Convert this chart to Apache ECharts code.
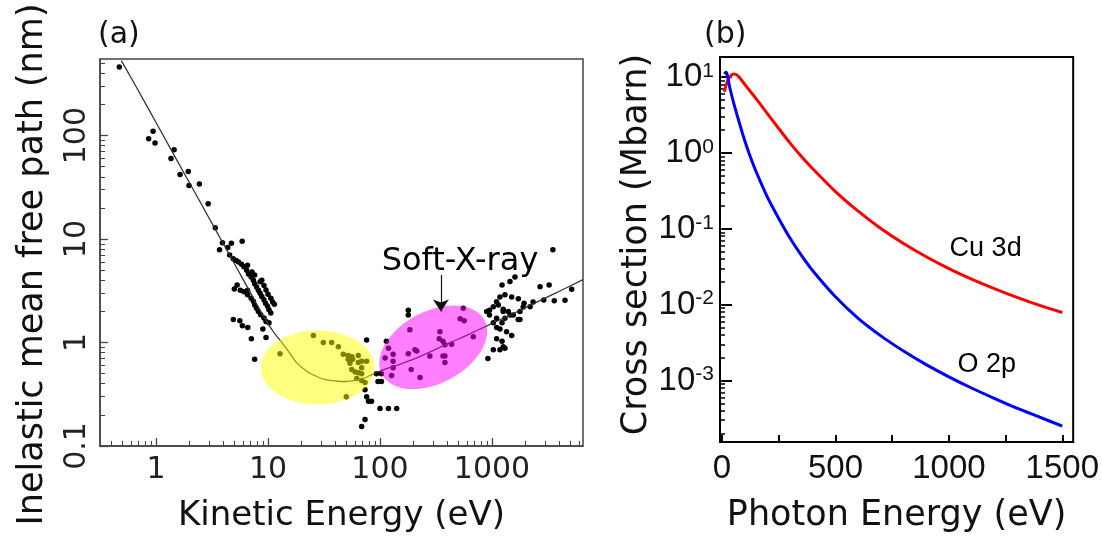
<!DOCTYPE html>
<html>
<head>
<meta charset="utf-8">
<script src="https://cdn.jsdelivr.net/npm/echarts@6/dist/echarts.min.js"></script>
<style>
html, body { margin: 0; padding: 0; background: #fff; }
#main { width: 1102px; height: 538px; }
</style>
</head>
<body>
<div id="main"></div>
<script>
// ---- (a) inelastic mean free path ----
var kineticLabels = [1, 10, 100, 1000];
var imfpLabels = [0.1, 1, 10, 100];

// universal curve
var curveEnergy = [0.49, 0.7, 1, 1.5, 2, 3, 4, 5, 6, 7, 9, 11, 13, 15, 18, 22, 26, 32, 40, 50, 60, 71, 85, 100, 140, 200, 300, 400, 600, 900, 1300, 1900, 2800, 4000, 6500];
var curveImfp = [530, 268, 134, 60.6, 34.6, 15.7, 8.95, 5.8, 4.06, 3.0, 1.84, 1.3, 1.03, 0.84, 0.64, 0.53, 0.48, 0.44, 0.425, 0.42, 0.43, 0.45, 0.49, 0.53, 0.6, 0.69, 0.84, 0.97, 1.18, 1.45, 1.74, 2.12, 2.6, 3.13, 4.06];

// measured points [energy eV, imfp nm]
var imfpPoints = [
  [0.47, 460], [0.86, 93], [0.94, 110], [0.98, 85], [1.36, 60], [1.45, 73],
  [1.64, 42], [1.94, 45], [1.97, 33], [2.44, 34], [2.92, 22], [3.38, 12.9],
  [3.69, 7.9], [3.92, 9.2], [4.37, 8.3], [4.71, 9.1], [5.88, 9.5],
  [4.54, 7.0], [4.89, 6.45], [5.2, 6.2], [5.45, 6.0], [5.8, 5.7], [6.1, 5.4], [6.45, 5.0],
  [6.7, 4.6], [7.07, 4.3], [7.4, 4.0], [7.6, 3.7], [7.9, 3.45], [8.2, 3.2], [8.5, 3.0],
  [8.8, 2.78], [9.2, 2.59], [9.5, 2.4], [9.9, 2.24], [10.2, 2.08], [10.6, 1.93],
  [5.0, 3.3], [5.3, 3.6], [5.66, 3.2], [6.1, 3.1], [6.56, 3.2], [6.56, 2.9], [7.07, 2.68],
  [7.4, 2.5], [7.6, 2.3], [7.9, 2.15], [8.2, 2.0], [8.6, 1.86], [9.2, 1.73], [9.6, 1.6], [10.2, 1.55],
  [6.56, 5.57], [7.2, 4.8], [7.6, 4.5], [8.5, 3.87], [8.8, 4.0], [9.2, 3.55], [9.6, 3.22],
  [10.0, 2.93], [10.6, 2.68], [11.0, 2.46], [11.4, 2.35],
  [4.9, 1.67], [5.6, 1.62], [5.9, 1.45], [6.6, 1.4], [7.1, 1.09], [7.6, 0.69], [9.0, 1.35], [9.6, 1.12], [12.8, 0.78],
  [25.4, 1.17], [31.2, 1.0], [37, 1.0], [42.5, 0.91], [47, 0.77], [52, 0.75], [56, 0.73], [64, 0.75],
  [76, 0.66], [52, 0.69], [54, 0.63], [57, 0.69], [64, 0.64], [68.6, 0.66], [56, 0.55], [60, 0.52],
  [64, 0.51], [68.6, 0.5], [62, 0.45], [68.6, 0.43], [73.5, 0.41], [68.6, 0.57], [50, 0.30], [76, 1.06],
  [73.5, 0.35], [76, 0.30], [84, 0.27], [79, 0.27], [100, 0.23], [119, 0.23], [141, 0.23],
  [73.5, 0.18], [68.6, 0.154], [93, 0.5], [103, 0.5], [96, 0.42], [103, 0.42],
  [114, 1.03], [119, 0.88], [111, 0.71], [131, 0.77], [131, 0.66], [131, 0.57], [127, 0.48],
  [179, 2.05], [179, 1.85], [185, 1.33], [205, 0.85], [213, 0.83], [179, 0.78], [190, 0.55], [228, 0.46],
  [279, 0.74], [343, 1.27], [338, 1.09], [365, 1.03], [380, 0.95], [436, 0.96], [365, 0.74], [380, 0.64],
  [380, 0.74], [554, 2.15], [520, 1.70], [565, 1.62], [681, 1.14],
  [897, 1.99], [950, 2.05], [1028, 2.22], [1100, 2.48], [1178, 2.75], [1230, 3.6], [1448, 3.9], [1604, 4.3],
  [1306, 2.9], [1500, 2.75], [1720, 2.65], [1140, 2.3], [1260, 2.1], [1400, 1.99], [1550, 1.85], [1778, 1.67],
  [1100, 1.72], [1230, 1.55], [1306, 1.72], [1448, 1.85], [1178, 1.35], [1350, 1.27], [1500, 1.17],
  [1100, 1.09], [1230, 1.03], [1260, 0.91], [1028, 0.85], [1178, 0.85], [1306, 0.88], [920, 0.70],
  [1260, 1.99], [950, 1.85], [1028, 1.55], [1100, 1.40], [1778, 1.99], [1900, 2.2], [1715, 1.67],
  [1935, 2.4], [2330, 2.46], [2190, 2.22], [2690, 3.46], [3240, 3.6], [2900, 2.58], [3600, 2.53],
  [3500, 7.9], [4490, 2.56], [5150, 3.28]
];

// highlighted regions (centres in data units)
var regionCenters = [[27.7, 0.574], [299, 0.9]];
var regionShapes = [
  { rx: 57, ry: 37, rot: 0, fill: 'rgba(255,255,0,0.5)' },
  { rx: 58, ry: 36, rot: 28 * Math.PI / 180, fill: 'rgba(255,0,255,0.5)' }
];
var softXrayLabel = [518, 6.0];
var softXrayArrow = [[350, 4.5], [350, 2.0]];

// ---- (b) photoionisation cross sections ----
var photonLabels = [0, 500, 1000, 1500];
var photonTicks = [0, 250, 500, 750, 1000, 1250, 1500];
var crossLabels = [0.001, 0.01, 0.1, 1, 10];
var cuEnergy = [10, 20, 30, 40, 50, 60, 75, 100, 150, 200, 250, 300, 350, 400, 500, 600, 700, 800, 900, 1000, 1100, 1200, 1300, 1400, 1500];
var cu3d = [6.4, 8.2, 9.6, 10.5, 11.0, 10.9, 10.0, 8.0, 5.2, 3.3, 2.1, 1.35, 0.9, 0.62, 0.31, 0.171, 0.101, 0.064, 0.0428, 0.0299, 0.0217, 0.0163, 0.0125, 0.0098, 0.0079];
var oEnergy = [10, 17.5, 35, 52.6, 70, 88, 105, 123, 150, 200, 250, 300, 350, 400, 500, 600, 700, 800, 900, 1000, 1100, 1200, 1300, 1400, 1500];
var o2p = [11.0, 11.6, 7.1, 4.4, 2.9, 1.9, 1.31, 0.92, 0.57, 0.262, 0.137, 0.075, 0.0446, 0.028, 0.0127, 0.0066, 0.00388, 0.00245, 0.00162, 0.00112, 0.000798, 0.000583, 0.000432, 0.00033, 0.000251];
var curveLabels = [
  { name: 'Cu 3d', value: [1162, 0.055] },
  { name: 'O 2p', value: [1167, 0.00164] }
];

function logMinorTicks(lo, hi) {
  var out = [];
  for (var d = -5; d <= 4; d++) {
    for (var m = 1; m <= 9; m++) {
      var v = +(m * Math.pow(10, d)).toPrecision(3);
      if (v >= lo && v <= hi) out.push(v);
    }
  }
  return out;
}
function zip(xs, ys) {
  return xs.map(function (x, i) { return [x, ys[i]]; });
}
function plain(v) { return String(+Number(v).toPrecision(4)); }

var dejavu = 'DejaVu Sans';
var arial = 'Liberation Sans';
var hidden = 'rgba(0,0,0,0)';

// extra axis used only to draw longer ticks at the decades
function majorTickAxis(base, pos, values, len, color, width) {
  return Object.assign({}, base, {
    position: pos,
    axisLine: { show: false },
    axisLabel: { show: false },
    splitLine: { show: false },
    axisTick: { show: true, inside: true, length: len, customValues: values, lineStyle: { color: color, width: width } }
  });
}

var chart = echarts.init(document.getElementById('main'));

chart.setOption({
  animation: false,
  backgroundColor: '#fff',
  title: [
    { text: '(a)', left: 98, top: 20, padding: 0, textStyle: { fontFamily: dejavu, fontSize: 30, fontWeight: 'normal', color: '#111' } },
    { text: '(b)', left: 704, top: 20, padding: 0, textStyle: { fontFamily: dejavu, fontSize: 30, fontWeight: 'normal', color: '#111' } }
  ],
  grid: [
    { left: 100, top: 59, width: 483, height: 403, show: true, borderColor: '#444', borderWidth: 1.5 },
    { left: 720, top: 57, width: 355, height: 402, show: true, borderColor: '#000', borderWidth: 2 }
  ],
  xAxis: [
    {
      type: 'log', logBase: 10, gridIndex: 0, min: 0.316, max: 6500, position: 'bottom',
      axisLine: { onZero: false, lineStyle: { color: '#444', width: 1.5 } },
      axisTick: { show: true, inside: true, length: 5, customValues: logMinorTicks(0.316, 6500), lineStyle: { color: '#444' } },
      axisLabel: { customValues: kineticLabels, formatter: plain, margin: 9, fontFamily: dejavu, fontSize: 30, color: '#222' },
      splitLine: { show: false },
      name: 'Kinetic Energy (eV)', nameLocation: 'middle', nameGap: 53,
      nameTextStyle: { fontFamily: dejavu, fontSize: 34, color: '#111' }
    },
    {
      type: 'value', gridIndex: 1, min: -9, max: 1548, position: 'bottom',
      axisLine: { onZero: false, lineStyle: { color: '#000', width: 2 } },
      axisTick: { show: true, inside: true, length: 7, customValues: photonTicks, lineStyle: { color: '#000', width: 2 } },
      axisLabel: { customValues: photonLabels, formatter: plain, margin: 10, fontFamily: arial, fontSize: 33, color: '#111' },
      splitLine: { show: false },
      name: 'Photon Energy (eV)', nameLocation: 'middle', nameGap: 56,
      nameTextStyle: { fontFamily: dejavu, fontSize: 35, color: '#111' }
    },
    majorTickAxis({ type: 'log', logBase: 10, gridIndex: 0, min: 0.316, max: 6500 }, 'bottom', kineticLabels, 8, '#444', 1.3)
  ],
  yAxis: [
    {
      type: 'log', logBase: 10, gridIndex: 0, min: 0.1, max: 550, position: 'left',
      axisLine: { onZero: false, lineStyle: { color: '#444', width: 1.5 } },
      axisTick: { show: true, inside: true, length: 5, customValues: logMinorTicks(0.1, 550), lineStyle: { color: '#444' } },
      axisLabel: { customValues: imfpLabels, formatter: plain, rotate: 90, margin: 8, fontFamily: dejavu, fontSize: 30, color: '#222' },
      splitLine: { show: false },
      name: 'Inelastic mean free path (nm)', nameLocation: 'middle', nameGap: 50,
      nameTextStyle: { fontFamily: dejavu, fontSize: 35, color: '#111', padding: [0, 24, 0, 0] }
    },
    {
      type: 'log', logBase: 10, gridIndex: 1, min: 1.55e-4, max: 18.4, position: 'left',
      axisLine: { onZero: false, lineStyle: { color: '#000', width: 2 } },
      axisTick: { show: true, inside: true, length: 5, customValues: logMinorTicks(1.55e-4, 18.4), lineStyle: { color: '#000', width: 1.5 } },
      axisLabel: {
        customValues: crossLabels, margin: 6,
        formatter: function (v) { return '{b|10}{s|' + Math.round(Math.log10(v)) + '}'; },
        rich: {
          b: { fontFamily: arial, fontSize: 33, color: '#111' },
          s: { fontFamily: arial, fontSize: 21, color: '#111', verticalAlign: 'top' }
        }
      },
      splitLine: { show: false },
      name: 'Cross section (Mbarn)', nameLocation: 'middle', nameGap: 66,
      nameTextStyle: { fontFamily: dejavu, fontSize: 35, color: '#111', padding: [0, 0, 0, 10] }
    },
    majorTickAxis({ type: 'log', logBase: 10, gridIndex: 0, min: 0.1, max: 550 }, 'left', imfpLabels, 8, '#444', 1.3),
    majorTickAxis({ type: 'log', logBase: 10, gridIndex: 1, min: 1.55e-4, max: 18.4 }, 'left', crossLabels, 10, '#000', 2)
  ],
  series: [
    {
      type: 'scatter', name: 'IMFP data', xAxisIndex: 0, yAxisIndex: 0,
      data: imfpPoints, symbolSize: 5.5, itemStyle: { color: '#000', opacity: 1 }, z: 2
    },
    {
      type: 'line', name: 'universal curve', xAxisIndex: 0, yAxisIndex: 0,
      data: zip(curveEnergy, curveImfp), smooth: 0.3, showSymbol: false,
      lineStyle: { color: '#333', width: 1.3 }, z: 3
    },
    {
      type: 'custom', name: 'regions', xAxisIndex: 0, yAxisIndex: 0,
      data: regionCenters, z: 4,
      renderItem: function (params, api) {
        var p = api.coord([api.value(0), api.value(1)]);
        var s = regionShapes[params.dataIndex];
        return {
          type: 'ellipse', x: p[0], y: p[1], rotation: s.rot,
          shape: { cx: 0, cy: 0, rx: s.rx, ry: s.ry },
          style: { fill: s.fill }
        };
      }
    },
    {
      type: 'scatter', name: 'soft x-ray', xAxisIndex: 0, yAxisIndex: 0,
      data: [softXrayLabel], symbolSize: 1, itemStyle: { color: hidden, opacity: 1 }, z: 5,
      label: { show: true, position: 'inside', formatter: 'Soft-X-ray', fontFamily: dejavu, fontSize: 32, color: '#000', opacity: 1 },
      markLine: {
        silent: true, symbol: ['none', 'arrow'], symbolSize: 12,
        label: { show: false },
        itemStyle: { color: '#111' },
        lineStyle: { color: '#111', width: 1.2, type: 'solid', opacity: 1 },
        data: [[{ coord: softXrayArrow[0] }, { coord: softXrayArrow[1] }]]
      }
    },
    {
      type: 'line', name: 'Cu 3d', xAxisIndex: 1, yAxisIndex: 1,
      data: zip(cuEnergy, cu3d), smooth: 0.3, showSymbol: false,
      lineStyle: { color: '#ff0000', width: 3 }
    },
    {
      type: 'line', name: 'O 2p', xAxisIndex: 1, yAxisIndex: 1,
      data: zip(oEnergy, o2p), smooth: 0.3, showSymbol: false,
      lineStyle: { color: '#0000ff', width: 3 }
    },
    {
      type: 'scatter', name: 'curve labels', xAxisIndex: 1, yAxisIndex: 1,
      data: curveLabels, symbolSize: 1, itemStyle: { color: hidden, opacity: 1 },
      label: { show: true, position: 'inside', formatter: '{b}', fontFamily: arial, fontSize: 27, color: '#000', opacity: 1 }
    }
  ]
});
</script>
</body>
</html>
